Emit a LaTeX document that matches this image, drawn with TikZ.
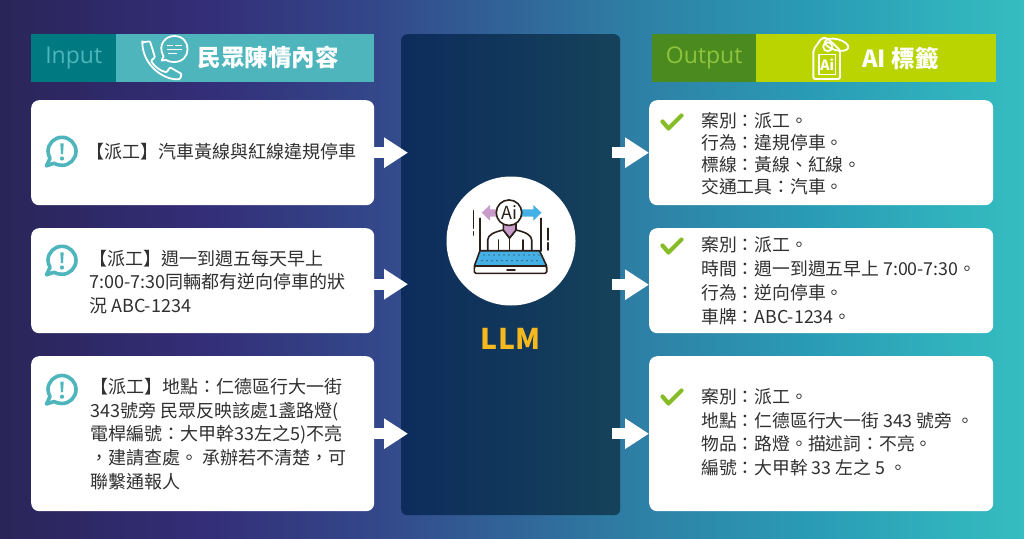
\documentclass[tikz,border=0pt]{standalone}
\usepackage{fontspec}
\setmainfont{Noto Sans CJK TC}
\newfontfamily\latinfont{Open Sans}
\usetikzlibrary{arrows.meta,calc}
\definecolor{bgA}{HTML}{2A2558}
\definecolor{bgB}{HTML}{332E78}
\definecolor{bgC}{HTML}{33488A}
\definecolor{bgD}{HTML}{2E7FA5}
\definecolor{bgE}{HTML}{2A9DB6}
\definecolor{bgF}{HTML}{35BDC0}
\definecolor{panelA}{HTML}{0D2C5C}
\definecolor{panelB}{HTML}{15425A}
\definecolor{tealD}{HTML}{007A80}
\definecolor{tealL}{HTML}{4DB5BB}
\definecolor{greenD}{HTML}{4A8A1F}
\definecolor{greenL}{HTML}{B9D400}
\definecolor{greenT}{HTML}{8FC43C}
\definecolor{checkG}{HTML}{86BC25}
\definecolor{gold}{HTML}{F5B81F}
\definecolor{inkD}{HTML}{2B1F1A}
\definecolor{pinkI}{HTML}{C99BCB}
\definecolor{blueI}{HTML}{45B0E6}
\definecolor{txt}{HTML}{303030}
\pgfdeclarehorizontalshading{bgshade}{100bp}{color(0bp)=(bgA);color(25bp)=(bgA);color(35bp)=(bgB);color(43.5bp)=(bgC);color(56bp)=(bgD);color(65bp)=(bgE);color(75bp)=(bgF);color(100bp)=(bgF)}
\pgfdeclarehorizontalshading{panelshade}{100bp}{color(0bp)=(panelA);color(25bp)=(panelA);color(75bp)=(panelB);color(100bp)=(panelB)}
\tikzset{
  card/.style={fill=white,rounded corners=8pt,draw=none,minimum width=#1,inner sep=0pt},
  bodytext/.style={text=txt,align=left,inner sep=0pt,anchor=west,font=\fontsize{18}{23.7}\selectfont},
  flow/.style={white,line width=11pt,-{Triangle[length=24pt,width=29pt]}},
  headbold/.style={text=white,inner sep=0pt,font=\fontsize{23.5}{26}\selectfont\bfseries},
  iconline/.style={white,line width=1.8pt,line join=round,line cap=round},
  inkline/.style={draw=inkD,line width=1.6pt,line join=round,line cap=round},
}
\newcommand{\alertmark}[2]{%
  \begin{scope}[shift={(#1,#2)}]
    \draw[tealL,line width=3.6pt,fill=white,line join=round] (-14,0) .. controls (-14,-7.73) and (-7.73,-14) .. (0,-14) .. controls (7.73,-14) and (14,-7.73) .. (14,0) .. controls (14,7.73) and (7.73,14) .. (0,14) .. controls (-3,14) and (-6,13.2) .. (-8,12) -- (-15.5,14.5) -- (-12,7) .. controls (-13.3,4.5) and (-14,2) .. cycle;
    \fill[tealL] (-1.7,-8) -- (1.7,-8) -- (1,2.7) -- (-1,2.7) -- cycle;
    \fill[tealL] (0,7.2) circle (2.1);
  \end{scope}}
\newcommand{\tickmark}[2]{%
  \draw[checkG,line width=4.2pt,line cap=round,line join=round,shift={(#1,#2)}] (-9.5,-0.5) -- (-3.5,6.5) -- (9.5,-6.5);}
\begin{document}
\begin{tikzpicture}[x=1pt,y=-1pt]
\useasboundingbox (0,0) rectangle (1024,538);
\shade[shading=bgshade] (0,0) rectangle (1024,538);

% central panel
\node[minimum width=219pt,minimum height=481pt,inner sep=0pt,rounded corners=6pt,anchor=north west,shading=panelshade] (llm) at (401,34) {};
\node[circle,fill=white,minimum size=129pt,inner sep=0pt] (llmdisc) at (511,241) {};
\node[text=gold,inner sep=0pt,font=\fontsize{28.5}{32}\selectfont\bfseries] (llmlabel) at (510.5,339) {LLM};

% LLM icon
\draw[inkline] (473.3,210.7) -- (473.3,228.3) (473.3,231.7) -- (473.3,235);
\draw[inkline] (547.7,228.3) -- (547.7,240) (547.7,242.7) -- (547.7,250);
\draw[inkline] (480,218.3) -- (480,251) (541,218.3) -- (541,251);
\fill[pinkI] (498,209.3) -- (490,209.3) -- (490,205) -- (481.7,212.7) -- (490,220.7) -- (490,216.7) -- (498,216.7) -- cycle;
\fill[blueI] (521,209.3) -- (533.3,209.3) -- (533.3,205) -- (541.5,212.7) -- (533.3,220.7) -- (533.3,216.7) -- (521,216.7) -- cycle;
\draw[inkline,fill=white] (487.7,251) -- (487.7,240) .. controls (487.7,235) and (494,232) .. (503.3,230) -- (509.5,238) -- (516,230) .. controls (525,232) and (531.7,235) .. (531.7,240) -- (531.7,251);
\draw[inkline,fill=pinkI] (503.3,224) -- (503.3,230) -- (509.5,238) -- (516,230) -- (516,224) -- cycle;
\draw[inkline] (509.5,238) -- (509.5,251) (498.3,240) -- (498.3,251) (523,240) -- (523,251);
\node[circle,draw=inkD,line width=1.6pt,fill=white,minimum size=25.5pt,inner sep=0pt,font=\fontsize{18}{18}\selectfont,text=inkD] (aihead) at (509,212.7) {Ai};
\draw[inkline,fill=blueI] (480,250.7) -- (539.5,250.7) -- (546.7,266) -- (474.3,266) -- cycle;
\draw[inkline,fill=white,rounded corners=1.5pt] (474.3,266) -- (546.7,266) -- (546.7,273.3) -- (474.3,273.3) -- cycle;
\draw[inkline] (507,270) -- (515,270);
\foreach \r/\a in {255/484,260.7/482}{
  \foreach \x in {0,5,...,55}{\fill[inkD] ({\a+\x},\r) circle (0.6);}
}

% input side
\node[fill=tealD,minimum width=85pt,minimum height=48pt,inner sep=0pt,anchor=north west,text=tealL,font=\latinfont\fontsize{23}{26}\selectfont] (inputtag) at (31,34) {\raisebox{-2pt}{Input}};
\node[fill=tealL,minimum width=258pt,minimum height=48pt,inner sep=0pt,anchor=north west] (inputhead) at (116,34) {};
\node[headbold] (inputtitle) at (268,58) {民眾陳情內容};
% phone icon
\draw[iconline,rounded corners=1pt] (142.3,42.3) -- (150,41.3) -- (155,57.3) -- (151,60.7) .. controls (154,66) and (160,71) .. (166.7,72.3) -- (170,67.3) -- (181.7,74) -- (180,79) .. controls (165,81) and (143,66) .. cycle;
\draw[iconline] (163.5,56.5) .. controls (157,44) and (166,36) .. (174.3,36) .. controls (192,36) and (192,62) .. (174.3,62) .. controls (171,62) and (168,61.5) .. (166,60) -- (161.7,60.5) -- cycle;
\draw[white,line width=1.3pt] (166.7,45.7) -- (173.3,45.7) (175,45.7) -- (181.7,45.7) (166.7,49.7) -- (181.7,49.7) (168.3,53.3) -- (176.7,53.3);

\node[card=343pt,minimum height=105pt,anchor=north west] (in1) at (31,100) {};
\node[card=343pt,minimum height=105pt,anchor=north west] (in2) at (31,228) {};
\node[card=343pt,minimum height=155pt,anchor=north west] (in3) at (31,356) {};
\alertmark{62}{151.3}
\alertmark{62}{260.3}
\alertmark{62}{389.5}
\node[bodytext] (in1t) at (86,152) {【派工】汽車黃線與紅線違規停車};
\node[bodytext] (in2t) at (89,282) {【派工】週一到週五每天早上\\7:00-7:30同輛都有逆向停車的狀\\況 ABC-1234};
\node[bodytext] (in3t) at (90.5,434) {【派工】地點：仁德區行大一街\\343號旁 民眾反映該處1盞路燈(\\電桿編號：大甲幹33左之5)不亮\\，建請查處。 承辦若不清楚，可\\聯繫通報人};

% output side
\node[fill=greenD,minimum width=104pt,minimum height=48pt,inner sep=0pt,anchor=north west,text=greenT,font=\latinfont\fontsize{23}{26}\selectfont] (outputtag) at (652,34) {\raisebox{-2pt}{Output}};
\node[fill=greenL,minimum width=240pt,minimum height=48pt,inner sep=0pt,anchor=north west] (outputhead) at (756,34) {};
\node[headbold] (outputtitle) at (900.5,58) {AI 標籤};
% tag icon
\draw[iconline,line width=1.9pt,rounded corners=2pt] (813.3,50) -- (821.7,38) -- (827,38) -- (840,50) -- (840,79) -- (813.3,79) -- cycle;
\draw[iconline] (827.7,46.7) circle (4.5);
\draw[iconline,rotate around={-15:(836.7,44.7)}] (836.7,44.7) ellipse (12 and 5.5);
\node[draw=white,line width=1.4pt,minimum width=16.7pt,minimum height=20pt,inner sep=0pt,text=white,font=\fontsize{14}{14}\selectfont\bfseries] (tagai) at (827.3,64.5) {Ai};

\node[card=344pt,minimum height=105pt,anchor=north west] (out1) at (649,100) {};
\node[card=344pt,minimum height=105pt,anchor=north west] (out2) at (649,228) {};
\node[card=344pt,minimum height=155pt,anchor=north west] (out3) at (649,356) {};
\tickmark{672}{122}
\tickmark{672}{246}
\tickmark{672}{397}
\node[bodytext,font=\fontsize{17.8}{22}\selectfont] (out1t) at (701,153.5) {案別：派工。\\行為：違規停車。\\標線：黃線、紅線。\\交通工具：汽車。};
\node[bodytext,font=\fontsize{17.8}{24}\selectfont] (out2t) at (701,281) {案別：派工。\\時間：週一到週五早上 7:00-7:30。\\行為：逆向停車。\\車牌：ABC-1234。};
\node[bodytext,font=\fontsize{17.8}{23.5}\selectfont] (out3t) at (701,432) {案別：派工。\\地點：仁德區行大一街 343 號旁 。\\物品：路燈。描述詞：不亮。\\編號：大甲幹 33 左之 5 。};

% connectors
\draw[flow] (in1.east) -- ([xshift=7pt]llm.west |- in1.east);
\draw[flow] ([yshift=-3.5pt]in2.east) -- ([xshift=7pt,yshift=-3.5pt]llm.west |- in2.east);
\draw[flow] (in3.east) -- ([xshift=7pt]llm.west |- in3.east);
\draw[flow] ([xshift=-8pt]llm.east |- out1.west) -- (out1.west);
\draw[flow] ([xshift=-8pt,yshift=-4pt]llm.east |- out2.west) -- ([yshift=-4pt]out2.west);
\draw[flow] ([xshift=-8pt]llm.east |- out3.west) -- (out3.west);
\end{tikzpicture}
\end{document}
